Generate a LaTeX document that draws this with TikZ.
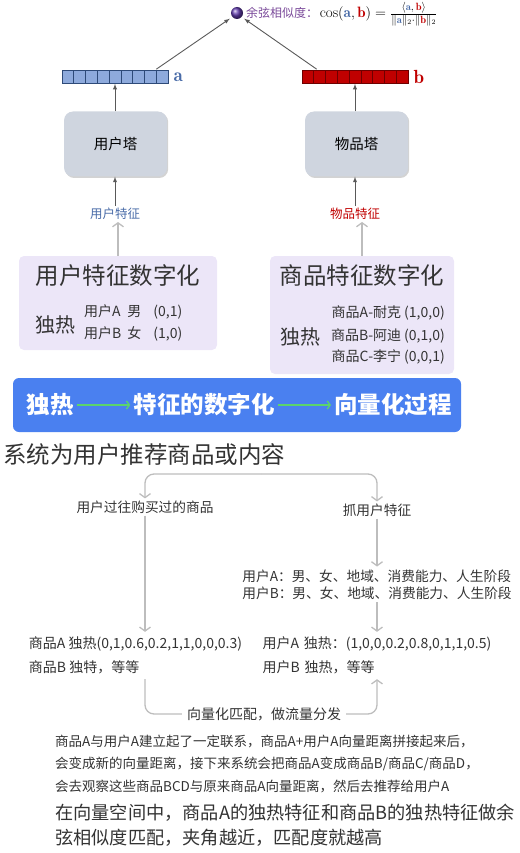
\documentclass[tikz,border=0pt]{standalone}
\usepackage{fontspec}
\usepackage{amsmath}
\newfontfamily\cjk{Noto Sans CJK SC}
\usetikzlibrary{arrows.meta,calc,shadows,positioning}
\definecolor{vecfill}{HTML}{8EAADC}
\definecolor{vecline}{HTML}{2E4A78}
\definecolor{redfill}{HTML}{C00000}
\definecolor{redline}{HTML}{6E0000}
\definecolor{labelblue}{HTML}{4A6CA8}
\definecolor{labelred}{HTML}{C00000}
\definecolor{simpurple}{HTML}{7A4A9A}
\definecolor{towerfill}{HTML}{CFD5DF}
\definecolor{lavender}{HTML}{ECE6F8}
\definecolor{bannerblue}{HTML}{4A80F0}
\definecolor{arrowgreen}{HTML}{5BD46C}
\definecolor{flowgray}{HTML}{BDBDBD}
\definecolor{textgray}{HTML}{333333}

\begin{document}
\begin{tikzpicture}[x=1pt,y=-1pt,
  darrow/.style={draw=black!65, line width=0.9pt, -latex},
  larrow/.style={draw=flowgray, line width=1.3pt, -{Straight Barb[length=4pt,width=11pt]}},
  flowline/.style={draw=flowgray, line width=1.3pt, rounded corners=9pt},
  garrow/.style={draw=arrowgreen, line width=1.3pt, -{Straight Barb[length=3pt,width=8pt]}},
  vecbar/.style={rectangle, minimum width=106pt, minimum height=13pt, inner sep=0pt, line width=0.6pt},
  tower/.style={rectangle, rounded corners=9pt, fill=towerfill, minimum width=103pt, minimum height=65pt,
    drop shadow={shadow xshift=1.2pt, shadow yshift=-1.5pt, opacity=0.35}, font=\cjk\fontsize{14.5}{16}\selectfont},
  featbox/.style={rectangle, rounded corners=5pt, fill=lavender, inner sep=0pt},
  cjktext/.style={font=\cjk\fontsize{#1}{#1}\selectfont, text=textgray, inner sep=2pt},
  bannertext/.style={font=\cjk\bfseries\fontsize{23.5}{24}\selectfont, text=white, inner sep=3pt}]
\useasboundingbox (0,0) rectangle (519,853);

% cosine similarity on top
\node[circle, minimum size=12pt, inner sep=0pt, ball color=simpurple!80!blue] (ball) at (237,13) {};
\node[anchor=west, inner sep=0pt] (simlabel) at (246,14)
  {{\cjk\fontsize{12}{14}\selectfont\color{simpurple}余弦相似度：}\,\fontsize{15}{17}\selectfont
   $\cos(\textcolor{labelblue}{\mathbf{a}},\textcolor{labelred}{\mathbf{b}})
   =\frac{\langle\textcolor{labelblue}{\mathbf{a}},\,\textcolor{labelred}{\mathbf{b}}\rangle}
   {\|\textcolor{labelblue}{\mathbf{a}}\|_2\cdot\|\textcolor{labelred}{\mathbf{b}}\|_2}$};

% the two vectors
\node[vecbar, fill=vecfill, draw=vecline] (veca) at (115,77) {};
\node[vecbar, fill=redfill, draw=redline] (vecb) at (355,77) {};
\foreach \i in {1,...,8} {
  \draw[vecline, line width=0.6pt] ($(veca.south west)!\i/9!(veca.south east)$) -- ($(veca.north west)!\i/9!(veca.north east)$);
  \draw[redline, line width=0.6pt] ($(vecb.south west)!\i/9!(vecb.south east)$) -- ($(vecb.north west)!\i/9!(vecb.north east)$);
}
\node[right=5pt of veca, inner sep=0pt, text=labelblue, font=\fontsize{19}{20}\selectfont] (laba) {$\mathbf{a}$};
\node[right=5pt of vecb, inner sep=0pt, text=labelred, font=\fontsize{19}{20}\selectfont] (labb) {$\mathbf{b}$};
\draw[darrow, shorten >=3pt] ($(veca.north east)+(-12,-1)$) -- (ball.-140);
\draw[darrow, shorten >=3pt] ($(vecb.north west)+(15,-1)$) -- (ball.-40);

% towers
\node[tower] (towera) at (115.5,144) {用户塔};
\node[tower] (towerb) at (356.5,144) {物品塔};
\draw[darrow] (towera.north -| veca) -- (veca.south);
\draw[darrow] (towerb.north -| vecb) -- (vecb.south);

\node[font=\cjk\fontsize{12.5}{14}\selectfont, text=labelblue, inner sep=2pt] (feata) at (115,214) {用户特征};
\node[font=\cjk\fontsize{12.5}{14}\selectfont, text=labelred, inner sep=2pt] (featb) at (355,214) {物品特征};
\draw[darrow] (feata.north) -- (feata.north |- towera.south);
\draw[darrow] (featb.north) -- (featb.north |- towerb.south);

% feature digitisation boxes
\node[featbox, minimum width=198pt, minimum height=94pt] (boxa) at (118,303) {};
\node[featbox, minimum width=184pt, minimum height=118pt] (boxb) at (362,315) {};
\draw[larrow] (boxa.north) -- (boxa.north |- feata.south);
\draw[larrow] (boxb.north) -- (boxb.north |- featb.south);

\node[cjktext=23.5] (titlea) at (118,276) {用户特征数字化};
\node[cjktext=20] (hota) at (55,325) {独热};
\node[cjktext=14, anchor=west, inner sep=0pt] (rowsa) at (84,324)
  {\begin{tabular}{@{}l@{\hspace{6pt}}l@{\hspace{12pt}}l@{}}
   用户A & 男 & (0,1)\\[6pt]
   用户B & 女 & (1,0)
   \end{tabular}};

\node[cjktext=23.5] (titleb) at (362,276) {商品特征数字化};
\node[cjktext=20] (hotb) at (300,337) {独热};
\node[cjktext=14, anchor=east, align=right, inner sep=0pt] (rowsb) at (445,335)
  {商品A-耐克 (1,0,0)\\[7pt]商品B-阿迪 (0,1,0)\\[6pt]商品C-李宁 (0,0,1)};

% banner
\node[rectangle, rounded corners=6pt, fill=bannerblue, minimum width=448pt, minimum height=54pt] (banner) at (237,405) {};
\node[bannertext] (steponehot) at (50,405) {独热};
\node[bannertext] (stepdigit) at (204,405) {特征的数字化};
\node[bannertext] (stepvector) at (393,405) {向量化过程};
\draw[garrow] (steponehot.east) -- (stepdigit.west);
\draw[garrow] (stepdigit.east) -- (stepvector.west);

% recommendation flow
\node[cjktext=23.5, anchor=west, inner sep=0pt] (heading) at (3,455) {系统为用户推荐商品或内容};
\node[cjktext=13.7] (history) at (145,507) {用户过往购买过的商品};
\node[cjktext=13.7] (grab) at (377,510) {抓用户特征};
\coordinate (split) at (261,474);
\draw[flowline, larrow] (split) -| (history.north);
\draw[flowline, larrow] (split) -| (grab.north);

\node[cjktext=13.7, align=left, inner sep=3pt] (userattr) at (377,584.5)
  {用户A：男、女、地域、消费能力、人生阶段\\[3pt]用户B：男、女、地域、消费能力、人生阶段};
\draw[larrow] (grab.south) -- (userattr.north);

\node[cjktext=14, align=left, inner sep=4.5pt] (itemvec) at (135.5,655.5)
  {商品A 独热(0,1,0.6,0.2,1,1,0,0,0.3)\\[9pt]商品B 独特，等等};
\node[cjktext=14, align=left, inner sep=4.5pt] (uservec) at (377,655.5)
  {用户A\,\,独热：(1,0,0,0.2,0.8,0,1,1,0.5)\\[9pt]用户B\,\,独热，等等};
\draw[larrow] (history.south) -- (history.south |- itemvec.north);
\draw[larrow] (userattr.south) -- (uservec.north);

\node[cjktext=14, inner sep=5pt] (match) at (264,714) {向量化匹配，做流量分发};
\draw[flowline] (itemvec.south -| history.south) |- (match.west);
\draw[flowline, larrow] (match.east) -| (uservec.south);

% notes
\node[cjktext=13.5, anchor=north west, align=left, inner sep=0pt] (note) at (55,735)
  {商品A与用户A建立起了一定联系，商品A+用户A向量距离拼接起来后，\\[8pt]
   会变成新的向量距离，接下来系统会把商品A变成商品B/商品C/商品D，\\[8pt]
   会去观察这些商品BCD与原来商品A向量距离，然后去推荐给用户A};
\node[cjktext=18.2, anchor=north west, align=left, inner sep=0pt] (summary) at (55,804)
  {在向量空间中，商品A的独热特征和商品B的独热特征做余\\[7pt]
   弦相似度匹配，夹角越近，匹配度就越高};
\end{tikzpicture}
\end{document}
